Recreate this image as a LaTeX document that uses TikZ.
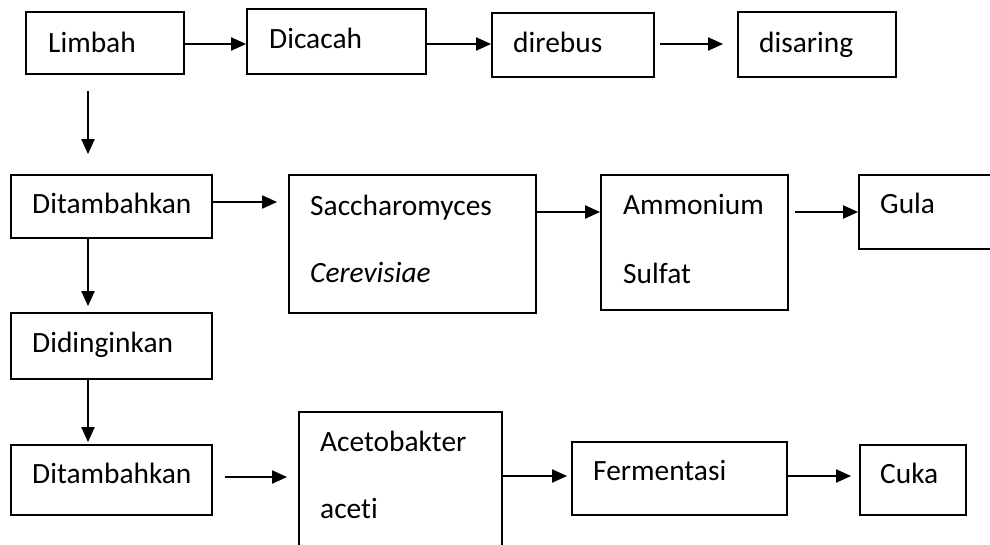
\documentclass[tikz,border=0pt]{standalone}
\usepackage{fontspec}
\setmainfont{Carlito}[Ligatures={NoCommon}]
\usetikzlibrary{arrows.meta}
\begin{document}
\begin{tikzpicture}[x=1pt,y=-1pt,
  box/.style={draw,line width=1.8pt,inner sep=0pt,rectangle},
  lbl/.style={anchor=base west,inner sep=0pt,font=\fontsize{29.4}{35}\selectfont},
  arr/.style={line width=2pt,-{Triangle[length=15pt,width=13pt]}}]
\path[use as bounding box] (0,0) rectangle (990,544);
% boxes
\node[box,minimum width=158pt,minimum height=62pt] (limbah) at (105,43) {};
\node[box,minimum width=179pt,minimum height=65pt] (dicacah) at (336.5,41.5) {};
\node[box,minimum width=162pt,minimum height=64pt] (direbus) at (573,45) {};
\node[box,minimum width=158pt,minimum height=65pt] (disaring) at (817,44.5) {};
\node[box,minimum width=201pt,minimum height=63pt] (tamb1) at (111.5,206.5) {};
\node[box,minimum width=247pt,minimum height=138pt] (sacch) at (412.5,244) {};
\node[box,minimum width=187pt,minimum height=135pt] (ammon) at (694.5,242.5) {};
\node[box,minimum width=141pt,minimum height=74pt] (gula) at (929.5,212) {};
\node[box,minimum width=201pt,minimum height=66pt] (didin) at (111.5,346) {};
\node[box,minimum width=201pt,minimum height=70pt] (tamb2) at (111.5,480) {};
\node[box,minimum width=203pt,minimum height=148pt] (aceto) at (400.5,486) {};
\node[box,minimum width=215pt,minimum height=73pt] (ferm) at (679.5,478.5) {};
\node[box,minimum width=106pt,minimum height=70pt] (cuka) at (913,480) {};
% texts
\node[lbl] (tlimbah) at (48,52) {Limbah};
\node[lbl] (tdicacah) at (269,48) {Dicacah};
\node[lbl] (tdirebus) at (513,52) {direbus};
\node[lbl] (tdisaring) at (759,52) {disaring};
\node[lbl] (ttamb1) at (32,213) {Ditambahkan};
\node[lbl] (tsacch) at (310,215) {Saccharomyces};
\node[lbl] (tcere) at (310,282) {\itshape Cerevisiae};
\node[lbl] (tammon) at (623,214) {Ammonium};
\node[lbl] (tsulfat) at (623,283) {Sulfat};
\node[lbl] (tgula) at (880,213) {Gula};
\node[lbl] (tdidin) at (32,352) {Didinginkan};
\node[lbl] (ttamb2) at (32,483) {Ditambahkan};
\node[lbl] (taceto) at (320,451) {Acetobakter};
\node[lbl] (taceti) at (320,518) {aceti};
\node[lbl] (tferm) at (593,480) {Fermentasi};
\node[lbl] (tcuka) at (880,483) {Cuka};
% arrows
\draw[arr] (limbah.east |- 0,44) -- (dicacah.west |- 0,44);
\draw[arr] (dicacah.east |- 0,44) -- (direbus.west |- 0,44);
\draw[arr,shorten <=5pt,shorten >=14pt] (direbus.east |- 0,44) -- (disaring.west |- 0,44);
\draw[arr,shorten <=16pt,shorten >=20pt] (limbah.south -| 88,0) -- (tamb1.north -| 88,0);
\draw[arr,shorten >=11pt] (tamb1.east |- 0,202) -- (sacch.west |- 0,202);
\draw[arr] (sacch.east |- 0,212) -- (ammon.west |- 0,212);
\draw[arr,shorten <=6pt] (ammon.east |- 0,212) -- (gula.west |- 0,212);
\draw[arr,shorten >=6pt] (tamb1.south -| 88,0) -- (didin.north -| 88,0);
\draw[arr,shorten >=2pt] (didin.south -| 88,0) -- (tamb2.north -| 88,0);
\draw[arr,shorten <=12pt,shorten >=11pt] (tamb2.east |- 0,477) -- (aceto.west |- 0,477);
\draw[arr,shorten >=4pt] (aceto.east |- 0,476) -- (ferm.west |- 0,476);
\draw[arr,shorten >=8pt] (ferm.east |- 0,476) -- (cuka.west |- 0,476);
\end{tikzpicture}
\end{document}
